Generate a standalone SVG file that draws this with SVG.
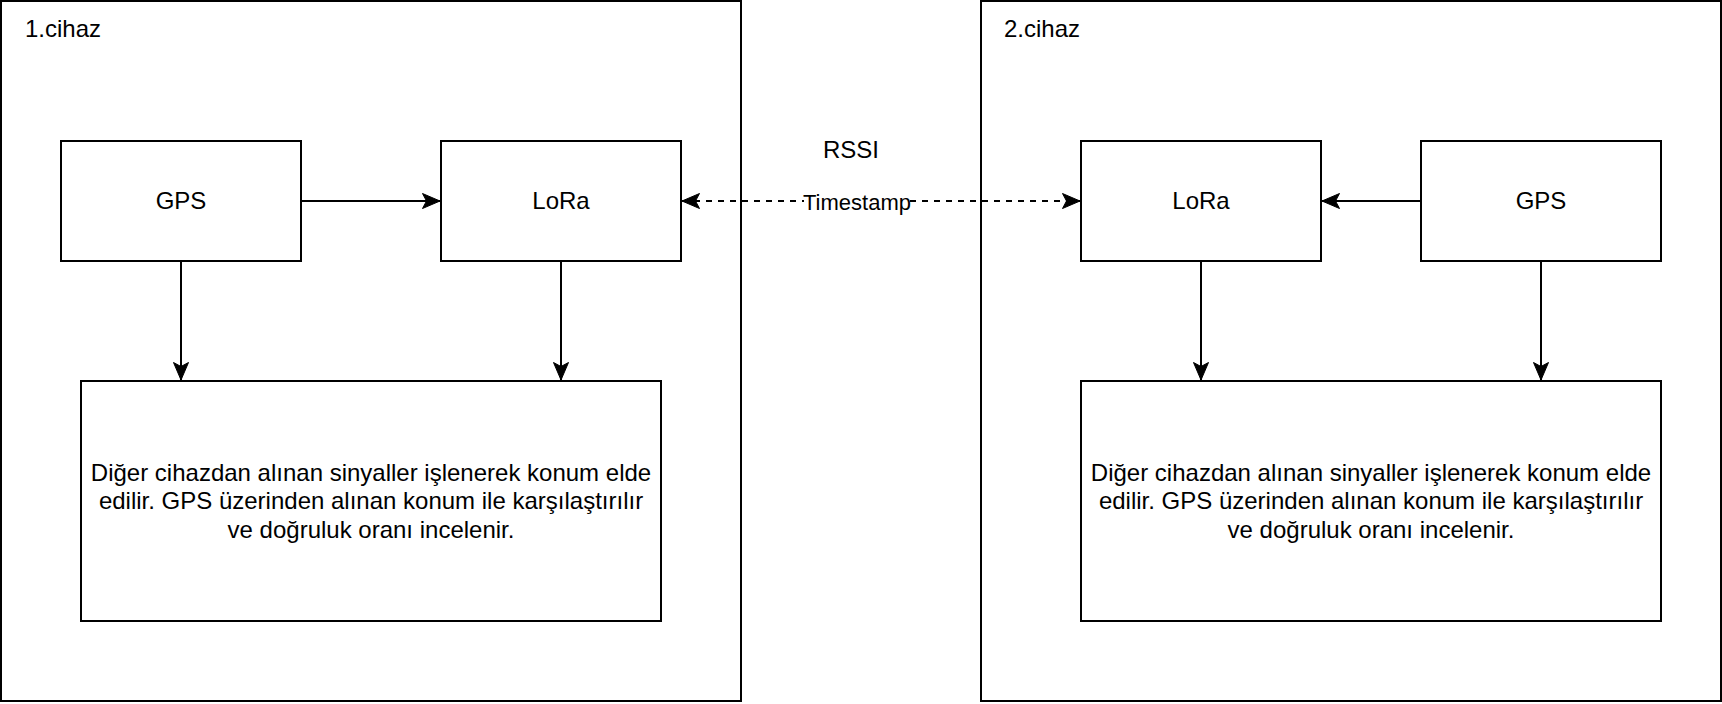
<svg xmlns="http://www.w3.org/2000/svg" width="1722" height="704" viewBox="0 0 1722 704">
<style>
  .box { fill: #ffffff; stroke: #000000; stroke-width: 2; }
  .lbl { font-family: "Liberation Sans", Arial, Helvetica, sans-serif; font-size: 24px; fill: #000000; }
  .mid { text-anchor: middle; }
  .edge { fill: none; stroke: #000000; stroke-width: 2; }
  .dash { stroke-dasharray: 6 6; }
  .elbl { font-family: "Liberation Sans", Arial, Helvetica, sans-serif; font-size: 22px; fill: #000000; text-anchor: middle; }
</style>
<defs>
  <marker id="arr" markerUnits="userSpaceOnUse" markerWidth="20" markerHeight="18" viewBox="0 0 20 18" refX="19" refY="9" orient="auto-start-reverse">
    <path d="M19,9 L1.5,1.5 L5.5,9 L1.5,16.5 Z" fill="#000000" stroke="#000000" stroke-width="1"/>
  </marker>
</defs>
<rect x="0" y="0" width="1722" height="704" fill="#ffffff"/>

<g id="cihaz1">
  <rect class="box" x="1" y="1" width="740" height="700"/>
  <text class="lbl" x="25" y="37">1.cihaz</text>
</g>
<g id="cihaz2">
  <rect class="box" x="981" y="1" width="740" height="700"/>
  <text class="lbl" x="1004" y="37">2.cihaz</text>
</g>

<g id="gps1">
  <rect class="box" x="61" y="141" width="240" height="120"/>
  <text class="lbl mid" x="181" y="209">GPS</text>
</g>
<g id="lora1">
  <rect class="box" x="441" y="141" width="240" height="120"/>
  <text class="lbl mid" x="561" y="209">LoRa</text>
</g>
<g id="islem1">
  <rect class="box" x="81" y="381" width="580" height="240"/>
  <text class="lbl mid" x="371" y="480.6">Diğer cihazdan alınan sinyaller işlenerek konum elde</text>
  <text class="lbl mid" x="371" y="509.4">edilir. GPS üzerinden alınan konum ile karşılaştırılır</text>
  <text class="lbl mid" x="371" y="538.2">ve doğruluk oranı incelenir.</text>
</g>

<g id="lora2">
  <rect class="box" x="1081" y="141" width="240" height="120"/>
  <text class="lbl mid" x="1201" y="209">LoRa</text>
</g>
<g id="gps2">
  <rect class="box" x="1421" y="141" width="240" height="120"/>
  <text class="lbl mid" x="1541" y="209">GPS</text>
</g>
<g id="islem2">
  <rect class="box" x="1081" y="381" width="580" height="240"/>
  <text class="lbl mid" x="1371" y="480.6">Diğer cihazdan alınan sinyaller işlenerek konum elde</text>
  <text class="lbl mid" x="1371" y="509.4">edilir. GPS üzerinden alınan konum ile karşılaştırılır</text>
  <text class="lbl mid" x="1371" y="538.2">ve doğruluk oranı incelenir.</text>
</g>

<g id="rssi">
  <text class="lbl mid" x="851" y="157.5">RSSI</text>
</g>

<g id="connectors">
  <path class="edge" d="M301,201 L440,201" marker-end="url(#arr)"/>
  <path class="edge" d="M181,261 L181,380" marker-end="url(#arr)"/>
  <path class="edge" d="M561,261 L561,380" marker-end="url(#arr)"/>
  <path class="edge" d="M1421,201 L1322,201" marker-end="url(#arr)"/>
  <path class="edge" d="M1201,261 L1201,380" marker-end="url(#arr)"/>
  <path class="edge" d="M1541,261 L1541,380" marker-end="url(#arr)"/>
  <path class="edge dash" d="M682,201 L1080,201" marker-start="url(#arr)" marker-end="url(#arr)"/>
  <rect x="804" y="190" width="106" height="23" fill="#ffffff"/>
  <text class="elbl" x="857" y="210">Timestamp</text>
</g>
</svg>
